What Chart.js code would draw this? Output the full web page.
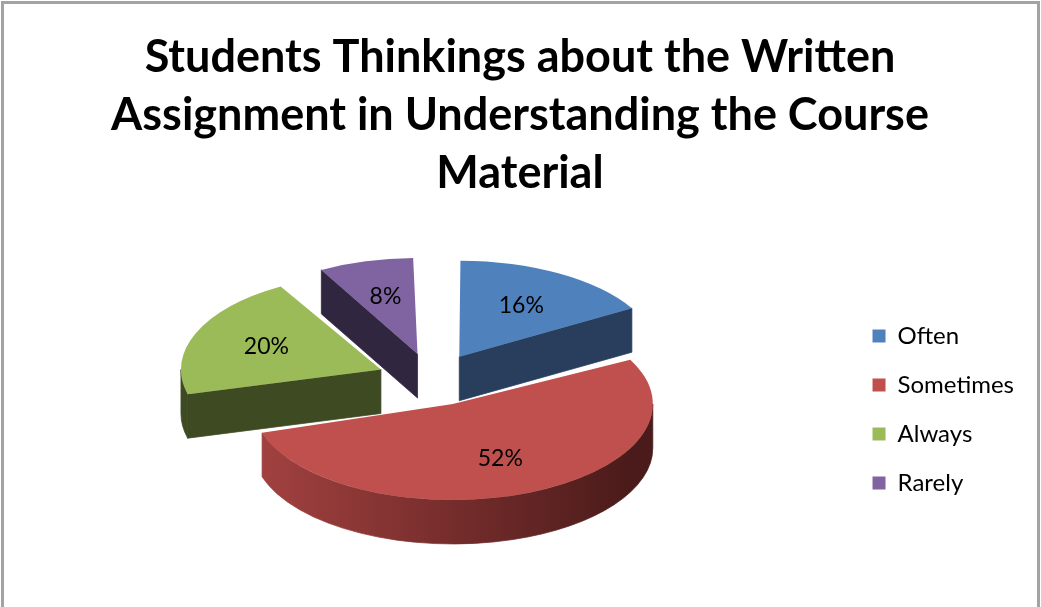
<!DOCTYPE html>
<html>
<head>
<meta charset="utf-8">
<title>Written Assignment Survey</title>
<script src="https://cdn.jsdelivr.net/npm/chart.js@4.4.0/dist/chart.umd.min.js"></script>
<style>
  html, body { margin: 0; padding: 0; background: #fff; }
  #wrap { width: 1041px; height: 607px; }
</style>
</head>
<body>
<div id="wrap"><canvas id="pieChart" width="1041" height="607"></canvas></div>
<script>
// Survey answers (percent of students)
const categories = ['Often', 'Sometimes', 'Always', 'Rarely'];
const percentValues = [16, 52, 20, 8];
const titleLines = [
    'Students Thinkings about the Written',
    'Assignment in Understanding the Course',
    'Material'
];

// Look of the 3D pie
const topColors = ['#4F81BD', '#C0504D', '#9BBB59', '#8064A2'];
const sideColors = ['#293d5d', '#7a2f2e', '#3e4b22', '#31263f'];
const pieRadius = 200;
const tilt = 0.48;        // vertical squash of the pie plane
const depth = 44;         // thickness of the pie in px
const lift = 30;          // raise the pie so the whole block sits centred
const explode = 55;       // distance every slice is pulled out
const labelRadius = 0.62;
const fontFamily = 'Lato, "Open Sans", sans-serif';

// ArcElement.draw() shifts an arc by offset/4 and widens it by offset/4 * fix
function arcFix(el) {
    const alpha = el.endAngle - el.startAngle;
    return 1 - Math.sin(Math.min(Math.PI, alpha));
}

// the geometry the library ends up drawing for one slice
function arcGeom(el) {
    const o4 = (el.options.offset || 0) / 4;
    const alpha = el.endAngle - el.startAngle;
    const grow = o4 * arcFix(el);
    const r = el.outerRadius + grow;
    const beta = Math.max(0.001, alpha * r - grow / Math.PI) / r;
    const trim = (alpha - beta) / 2;
    const mid = (el.startAngle + el.endAngle) / 2;
    return {
        x: el.x + Math.cos(mid) * o4,
        y: el.y + Math.sin(mid) * o4,
        r: r,
        a1: el.startAngle + trim,
        a2: el.endAngle - trim,
        mid: mid
    };
}

function sideFill(ctx, i, cx, r) {
    if (i === 1) {
        const g = ctx.createLinearGradient(cx - r, 0, cx + r, 0);
        g.addColorStop(0, '#a84442');
        g.addColorStop(0.5, '#7a2f2e');
        g.addColorStop(1, '#4a1b1a');
        return g;
    }
    return sideColors[i];
}

const pie3d = {
    id: 'pie3d',
    afterDatasetsUpdate(chart) {
        // undo the widening so every slice keeps the same radius
        chart.getDatasetMeta(0).data.forEach(el => {
            el.outerRadius = pieRadius - (el.options.offset || 0) / 4 * arcFix(el);
        });
    },
    beforeDraw(chart) {
        const ctx = chart.ctx;
        ctx.save();
        ctx.fillStyle = '#fff';
        ctx.fillRect(0, 0, chart.width, chart.height);
        ctx.strokeStyle = '#a3a3a3';
        ctx.lineWidth = 3;
        ctx.strokeRect(2.5, 2.5, 1036, chart.height + 20);
        ctx.restore();
    },
    beforeDatasetsDraw(chart) {
        const meta = chart.getDatasetMeta(0);
        const first = meta.data[0];
        const ctx = chart.ctx;
        ctx.save();
        // squash the circle into an ellipse; the library draws the top faces in this space
        ctx.translate(first.x, first.y - lift);
        ctx.scale(1, tilt);
        ctx.translate(-first.x, -first.y);

        const dl = depth / tilt;
        const order = meta.data.map((el, i) => i)
            .sort((a, b) => arcGeom(meta.data[a]).y - arcGeom(meta.data[b]).y);

        order.forEach(i => {
            const el = meta.data[i];
            const g = arcGeom(el);
            const r = g.r;
            const fill = sideFill(ctx, i, el.x, r);
            ctx.fillStyle = fill;
            ctx.strokeStyle = fill;
            ctx.lineWidth = 1;

            // cut faces
            const face = a => {
                const ex = g.x + Math.cos(a) * r;
                const ey = g.y + Math.sin(a) * r;
                ctx.beginPath();
                ctx.moveTo(g.x, g.y);
                ctx.lineTo(ex, ey);
                ctx.lineTo(ex, ey + dl);
                ctx.lineTo(g.x, g.y + dl);
                ctx.closePath();
                ctx.fill();
                ctx.stroke();
            };
            if (Math.cos(g.a1) < -1e-6) face(g.a1);
            if (Math.cos(g.a2) > 1e-6) face(g.a2);

            // outer rim facing the viewer
            const lo = Math.max(g.a1, 0);
            const hi = Math.min(g.a2, Math.PI);
            if (hi > lo) {
                ctx.beginPath();
                ctx.arc(g.x, g.y, r, lo, hi);
                ctx.arc(g.x, g.y + dl, r, hi, lo, true);
                ctx.closePath();
                ctx.fill();
                ctx.stroke();
            }
        });
    },
    afterDatasetsDraw(chart) {
        const ctx = chart.ctx;
        ctx.restore();
        const meta = chart.getDatasetMeta(0);
        const first = meta.data[0];
        ctx.save();
        ctx.font = '23px ' + fontFamily;
        ctx.fillStyle = '#000';
        ctx.textAlign = 'center';
        ctx.textBaseline = 'middle';
        meta.data.forEach((el, i) => {
            const g = arcGeom(el);
            const rr = g.r * labelRadius;
            const lx = g.x + Math.cos(g.mid) * rr;
            const ly = g.y + Math.sin(g.mid) * rr;
            const sy = first.y - lift + (ly - first.y) * tilt;
            ctx.fillText(percentValues[i] + '%', lx, sy);
        });
        ctx.restore();
    }
};

const ctx = document.getElementById('pieChart').getContext('2d');
const chart = new Chart(ctx, {
    type: 'pie',
    data: {
        labels: categories,
        datasets: [{
            data: percentValues,
            backgroundColor: topColors,
            borderWidth: 0,
            offset: explode * 4,
            clip: false
        }]
    },
    options: {
        responsive: false,
        animation: false,
        radius: pieRadius,
        events: [],
        layout: { padding: { left: 16, right: 17 } },
        plugins: {
            title: {
                display: true,
                text: titleLines,
                color: '#000',
                font: { family: fontFamily, size: 45, weight: 'bold', lineHeight: 1.29 },
                padding: { top: 28, bottom: 10 }
            },
            legend: {
                position: 'right',
                fullSize: false,
                labels: {
                    color: '#000',
                    font: { family: fontFamily, size: 24 },
                    boxWidth: 13,
                    boxHeight: 13,
                    padding: 25
                }
            },
            tooltip: { enabled: false }
        }
    },
    plugins: [pie3d]
});
</script>
</body>
</html>
